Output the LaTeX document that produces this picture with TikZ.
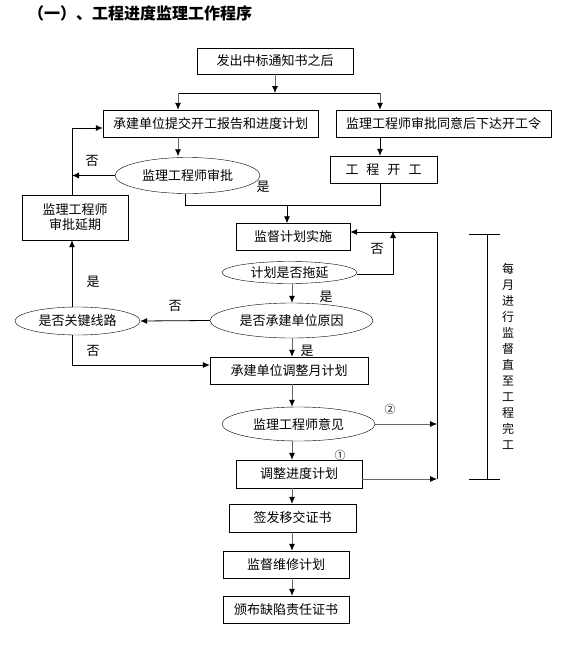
\documentclass[tikz,border=0pt]{standalone}
\usepackage{fontspec}
\setmainfont{Noto Sans CJK SC}
\usetikzlibrary{shapes.geometric,arrows.meta}
\tikzset{
  box/.style={draw, rectangle, inner sep=0pt, font=\fontsize{13}{15}\selectfont, align=center},
  oval/.style={draw, ellipse, inner sep=0pt, font=\fontsize{13}{15}\selectfont},
  lbl/.style={font=\fontsize{13}{15}\selectfont, inner sep=0pt},
  arr/.style={-{Latex[length=7pt,width=6pt,black]}, line width=0.8pt},
  garr/.style={arr, draw=black!60},
  ln/.style={line width=0.8pt}
}
\begin{document}
\begin{tikzpicture}[x=1pt,y=-1pt]
\useasboundingbox (0,0) rectangle (569,664);
\node[anchor=west, inner sep=0pt, font=\fontsize{16}{16}\selectfont\bfseries] (title) at (28,13) {（一）、工程进度监理工作程序};

\node[box, minimum width=156pt, minimum height=26pt] (n1) at (275,61) {发出中标通知书之后};
\node[box, minimum width=215pt, minimum height=27pt] (n2) at (210.5,123.5) {承建单位提交开工报告和进度计划};
\node[box, minimum width=215pt, minimum height=27pt] (n3) at (443.5,123.5) {监理工程师审批同意后下达开工令};
\node[box, minimum width=107pt, minimum height=27pt] (n4) at (383.5,169.5) {工\hspace{8pt}程\hspace{8pt}开\hspace{8pt}工};
\node[oval, minimum width=145pt, minimum height=36pt] (e1) at (187.5,175.5) {监理工程师审批};
\node[box, minimum width=106pt, minimum height=45pt] (n5) at (75,217.5) {监理工程师\\审批延期};
\node[box, minimum width=114pt, minimum height=27pt] (n6) at (293,237) {监督计划实施};
\node[oval, minimum width=135pt, minimum height=22pt] (e2) at (289.5,272.5) {计划是否拖延};
\node[oval, minimum width=163pt, minimum height=35pt] (e3) at (291.5,320.5) {是否承建单位原因};
\node[oval, minimum width=125pt, minimum height=28pt] (e4) at (77.5,321) {是否关键线路};
\node[box, minimum width=158pt, minimum height=27pt] (n7) at (289,370.5) {承建单位调整月计划};
\node[oval, minimum width=153pt, minimum height=34pt] (e5) at (298.5,424) {监理工程师意见};
\node[box, minimum width=126pt, minimum height=28pt] (n8) at (299,474) {调整进度计划};
\node[box, minimum width=127pt, minimum height=28pt] (n9) at (292.5,518) {签发移交证书};
\node[box, minimum width=126pt, minimum height=27pt] (n10) at (286,564.5) {监督维修计划};
\node[box, minimum width=126pt, minimum height=27pt] (n11) at (286,609.5) {颁布缺陷责任证书};

% labels
\node[lbl] (l1) at (92,161) {否};
\node[lbl] (l2) at (263,187) {是};
\node[lbl] (l3) at (377,249) {否};
\node[lbl] (l4) at (326,297) {是};
\node[lbl] (l5) at (175,306) {否};
\node[lbl] (l6) at (93,282) {是};
\node[lbl] (l7) at (93,351) {否};
\node[lbl] (l8) at (307,351) {是};
\node[lbl, font=\fontsize{11}{11}\selectfont] (c2) at (390,409) {②};
\node[lbl, font=\fontsize{11}{11}\selectfont] (c1) at (340,455) {①};

% vertical note and bracket
\node[inner sep=0pt, align=center, font=\fontsize{12}{16}\selectfont] (note) at (508,356.5) {每\\月\\进\\行\\监\\督\\直\\至\\工\\程\\完\\工};
\coordinate (bt) at (487,234);
\coordinate (bb) at (487,479);
\draw[ln] (bt) -- (bb);
\draw[ln] ([xshift=-18pt]bt) -- ([xshift=13pt]bt);
\draw[ln] ([xshift=-18pt]bb) -- ([xshift=13pt]bb);

% coordinates
\coordinate (j1) at (275,93);
\coordinate (j1l) at (178,93);
\coordinate (j1r) at (380,93);
\coordinate (b1) at (72,128);
\coordinate (b3) at (287,205);
\coordinate (r1) at (437,232);
\coordinate (r2) at (437,479);
\coordinate (b4) at (393,274);
\coordinate (b5) at (72,365);
\coordinate (cx) at (292,0);

% connectors
\draw[garr] (n1.south -| j1) -- (j1);
\draw[ln] (j1l) -- (j1r);
\draw[garr] (j1l) -- (j1l |- n2.north);
\draw[garr] (j1r) -- (j1r |- n3.north);
\draw[garr] (j1l |- n2.south) -- ([yshift=1pt]j1l |- e1.north);
\draw[arr] (j1r |- n3.south) -- (j1r |- n4.north);
\draw[arr] (e1.west) -- (e1.west -| b1);
\draw[arr] (n5.north -| b1) -- (b1) -- (b1 -| n2.west);
\draw[ln] ([xshift=-2pt]e1.south) |- (b3);
\draw[ln] (n4.south -| j1r) |- (b3);
\draw[arr] (b3) -- (b3 |- n6.north);
\draw[arr] (r2) -- (r1) -- (r1 -| n6.east);
\draw[arr] (e2.east |- b4) -- (b4) -- ([yshift=1pt]b4 |- r1);
\draw[garr] (cx |- e2.south) -- (cx |- e3.north);
\draw[arr] (e3.west) -- (e4.east);
\draw[arr] (e4.north -| b1) -- (b1 |- n5.south);
\draw[arr] (e4.south -| b5) -- (b5) -- (b5 -| n7.west);
\draw[garr] (cx |- e3.south) -- (cx |- n7.north);
\draw[garr] (cx |- n7.south) -- (cx |- e5.north);
\draw[garr] (e5.east) -- (e5.east -| r1);
\draw[garr] (cx |- e5.south) -- (cx |- n8.north);
\draw[garr] (n8.east |- r2) -- (r2);
\draw[garr] (cx |- n8.south) -- (cx |- n9.north);
\draw[garr] (cx |- n9.south) -- (cx |- n10.north);
\draw[garr] (cx |- n10.south) -- (cx |- n11.north);
\end{tikzpicture}
\end{document}
